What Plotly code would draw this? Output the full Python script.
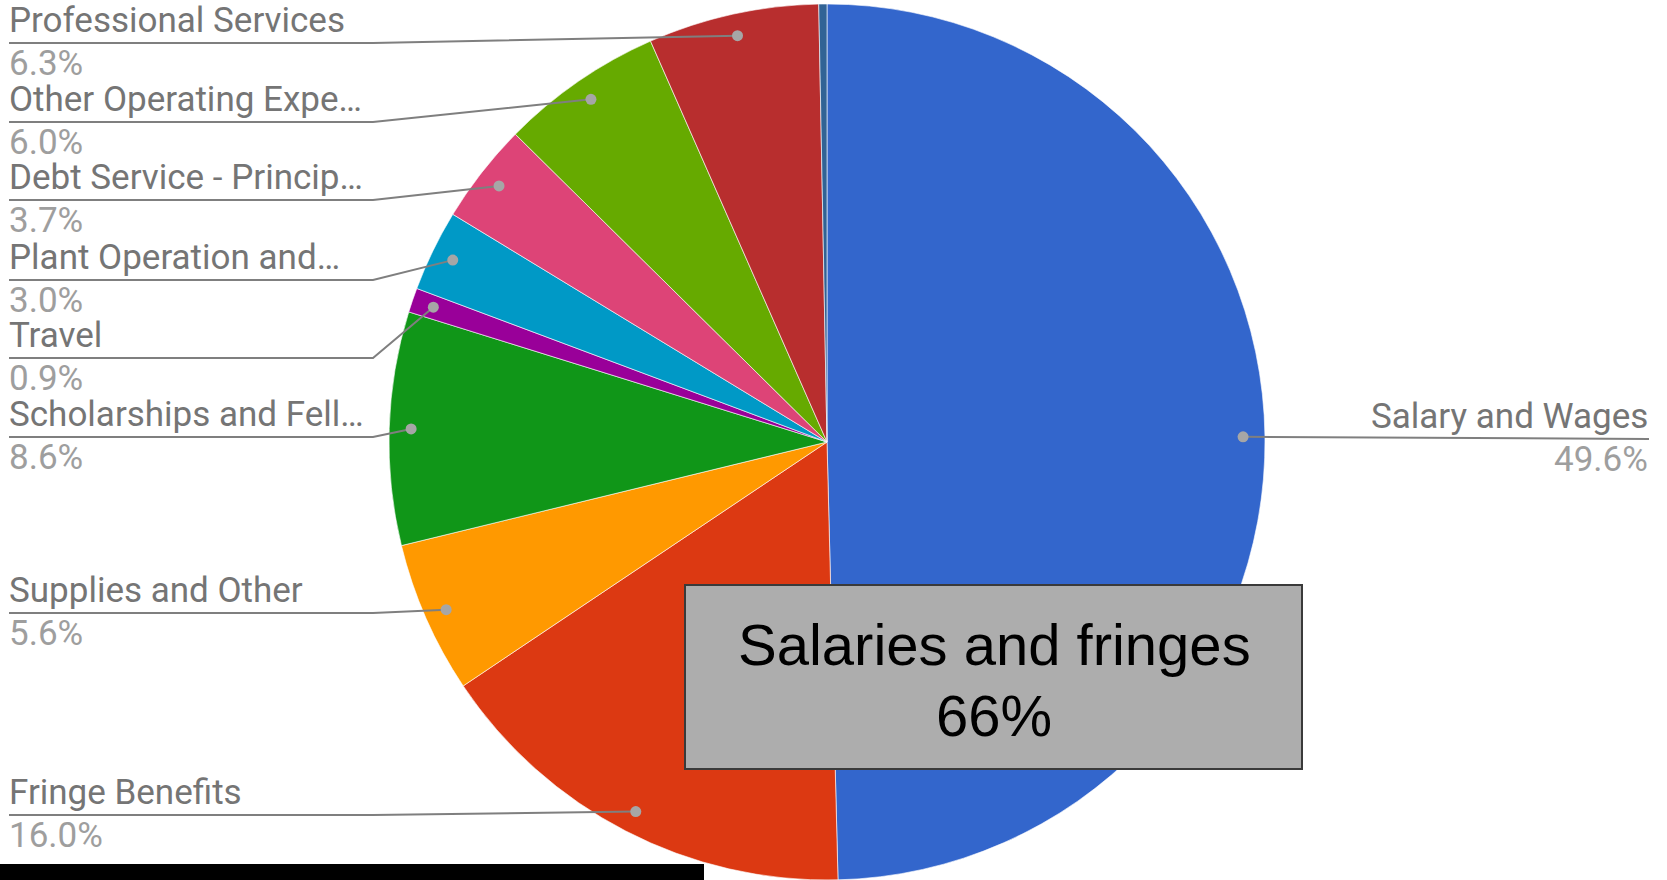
import math
import plotly.graph_objects as go

# Expense categories, clockwise from 12 o'clock
categories = [
    "Salary and Wages",
    "Fringe Benefits",
    "Supplies and Other",
    "Scholarships and Fellowships",
    "Travel",
    "Plant Operation and Maintenance",
    "Debt Service - Principal and Interest",
    "Other Operating Expenses",
    "Professional Services",
    "Miscellaneous",
]
# Text shown next to each slice (long names are clipped)
shown_names = [
    "Salary and Wages",
    "Fringe Benefits",
    "Supplies and Other",
    "Scholarships and Fell…",
    "Travel",
    "Plant Operation and…",
    "Debt Service - Princip…",
    "Other Operating Expe…",
    "Professional Services",
    None,
]
shares = [49.6, 16.0, 5.6, 8.6, 0.9, 3.0, 3.7, 6.0, 6.3, 0.3]
slice_colors = [
    "#3366cc", "#dc3912", "#ff9900", "#109618", "#990099",
    "#0099c6", "#dd4477", "#66aa00", "#b82e2e", "#316395",
]

# Page geometry (pixels)
W, H = 1667, 880
CX, CY, R = 827, 442, 438
# Underline row of each outside label and which side it sits on
label_rows = [439, 815, 613, 437, 358, 280, 200, 122, 43, None]
label_side = ["right", "left", "left", "left", "left", "left", "left", "left", "left", None]
LEFT_TEXT_X, LEFT_LINE_X, LEFT_KNEE_X = 7, 9, 373
RIGHT_TEXT_X = 1650

NAME_COLOR = "#757575"
PCT_COLOR = "#9e9e9e"
LEADER_COLOR = "#7f7f7f"
DOT_COLOR = "#a6a6a6"
LABEL_FONT = "Roboto"
LABEL_SIZE = 35

fig = go.Figure()

fig.add_trace(go.Pie(
    labels=categories,
    values=shares,
    sort=False,
    direction="clockwise",
    rotation=0,
    textinfo="none",
    hoverinfo="label+percent",
    marker=dict(colors=slice_colors, line=dict(color="white", width=0.6)),
    domain=dict(x=[(CX - R) / W, (CX + R) / W], y=[(H - CY - R) / H, (H - CY + R) / H]),
    showlegend=False,
))

# Pixel-space axes for leader lines, labels and the callout box
fig.add_trace(go.Scatter(x=[None], y=[None], showlegend=False, hoverinfo="skip"))

shapes = []
annotations = []
total = sum(shares)
cum = 0.0
for name, value, row, side in zip(shown_names, shares, label_rows, label_side):
    mid = (cum + value / 2) / total * 2 * math.pi
    cum += value
    if name is None:
        continue
    ax = CX + 0.95 * R * math.sin(mid)
    ay = CY - 0.95 * R * math.cos(mid)
    if side == "left":
        path = f"M {ax},{ay} L {LEFT_KNEE_X},{row} L {LEFT_LINE_X},{row}"
        tx, anchor = LEFT_TEXT_X, "left"
    else:
        path = f"M {ax},{ay} L {RIGHT_TEXT_X - 1},{row}"
        tx, anchor = RIGHT_TEXT_X, "right"
    shapes.append(dict(type="path", path=path, xref="x", yref="y", layer="above",
                       line=dict(color=LEADER_COLOR, width=2)))
    shapes.append(dict(type="circle", xref="x", yref="y", layer="above",
                       x0=ax - 5.5, x1=ax + 5.5, y0=ay - 5.5, y1=ay + 5.5,
                       fillcolor=DOT_COLOR, line=dict(width=0)))
    annotations.append(dict(x=tx, y=row - 23, xref="x", yref="y", text=name,
                            showarrow=False, xanchor=anchor, yanchor="middle",
                            font=dict(family=LABEL_FONT, size=LABEL_SIZE, color=NAME_COLOR)))
    annotations.append(dict(x=tx, y=row + 20.5, xref="x", yref="y",
                            text=f"{value / total * 100:.1f}%",
                            showarrow=False, xanchor=anchor, yanchor="middle",
                            font=dict(family=LABEL_FONT, size=LABEL_SIZE, color=PCT_COLOR)))

# Callout summarising salaries plus fringe benefits
combined = round(shares[0] + shares[1])
shapes.append(dict(type="rect", xref="x", yref="y", layer="above",
                   x0=685, x1=1302, y0=585, y1=769,
                   fillcolor="#adadad", line=dict(color="#3a3a3a", width=2)))
box_font = dict(family="Liberation Sans, Arial, sans-serif", size=58, color="black")
annotations.append(dict(x=994, y=644, xref="x", yref="y", text="Salaries and fringes",
                        showarrow=False, xanchor="center", yanchor="middle", font=box_font))
annotations.append(dict(x=994, y=715, xref="x", yref="y", text=f"{combined}%",
                        showarrow=False, xanchor="center", yanchor="middle", font=box_font))

# Dark strip along the lower-left edge
shapes.append(dict(type="rect", xref="x", yref="y", layer="above",
                   x0=0, x1=704, y0=864, y1=880,
                   fillcolor="black", line=dict(width=0)))

fig.update_layout(
    width=W, height=H,
    margin=dict(l=0, r=0, t=0, b=0),
    paper_bgcolor="white", plot_bgcolor="rgba(0,0,0,0)",
    xaxis=dict(range=[0, W], visible=False, fixedrange=True, domain=[0, 1]),
    yaxis=dict(range=[H, 0], visible=False, fixedrange=True, domain=[0, 1]),
    shapes=shapes,
    annotations=annotations,
)

fig.write_html("out.html")
